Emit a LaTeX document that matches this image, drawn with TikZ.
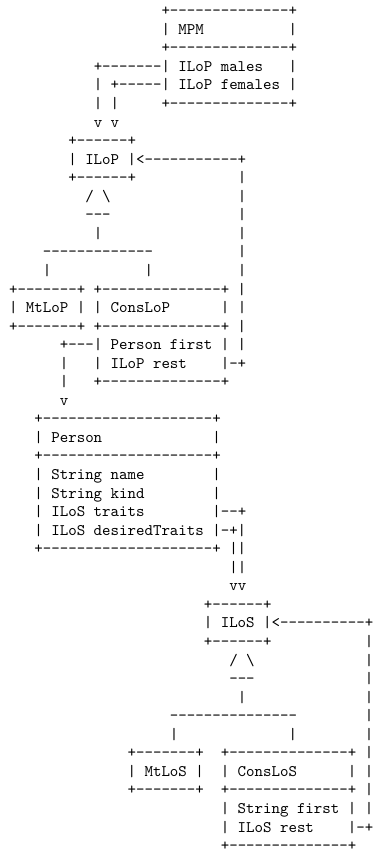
\documentclass[tikz,border=0pt]{standalone}
\usepackage{tikz}

% runs of dashes and blanks in the typewriter grid
\newcommand\dashes[1]{\foreach\k in {1,...,#1}{-}}
\newcommand\blank[1]{\hskip#1\fontdimen2\font\relax}

\tikzset{
  ascii/.style={anchor=base west,inner sep=0pt,outer sep=0pt,font=\ttfamily}
}

\begin{document}
\begin{tikzpicture}[x=5.25pt,y=11.5pt]
      \path[fill=white] (-1.07,-0.153) rectangle (43.08,-46.075);

      % MPM and its two lists
      \node[ascii] (r1) at (18,-1) {+\dashes{14}+};
      \node[ascii] (r2) at (18,-2) {| MPM\blank{10}|};
      \node[ascii] (r3) at (18,-3) {+\dashes{14}+};
      \node[ascii] (r4) at (10,-4) {+\dashes{7}| ILoP males\blank{3}|};
      \node[ascii] (r5) at (10,-5) {| +\dashes{5}| ILoP females |};
      \node[ascii] (r6) at (10,-6) {| |\blank{5}+\dashes{14}+};
      \node[ascii] (r7) at (10,-7) {v v};

      % ILoP
      \node[ascii] (r8) at (7,-8) {+\dashes{6}+};
      \node[ascii] (r9) at (7,-9) {| ILoP |<\dashes{11}+};
      \node[ascii] (r10) at (7,-10) {+\dashes{6}+\blank{12}|};
      \node[ascii] (r11) at (9,-11) {/ \textbackslash\blank{15}|};
      \node[ascii] (r12) at (9,-12) {\dashes{3}\blank{15}|};
      \node[ascii] (r13) at (10,-13) {|\blank{16}|};
      \node[ascii] (r14) at (4,-14) {\dashes{13}\blank{10}|};
      \node[ascii] (r15) at (4,-15) {|\blank{11}|\blank{10}|};
      \node[ascii] (r16) at (0,-16) {+\dashes{7}+ +\dashes{14}+ |};
      \node[ascii] (r17) at (0,-17) {| MtLoP | | ConsLoP\blank{6}| |};
      \node[ascii] (r18) at (0,-18) {+\dashes{7}+ +\dashes{14}+ |};
      \node[ascii] (r19) at (6,-19) {+\dashes{3}| Person first | |};
      \node[ascii] (r20) at (6,-20) {|\blank{3}| ILoP rest\blank{4}|-+};
      \node[ascii] (r21) at (6,-21) {|\blank{3}+\dashes{14}+};
      \node[ascii] (r22) at (6,-22) {v};

      % Person
      \node[ascii] (r23) at (3,-23) {+\dashes{20}+};
      \node[ascii] (r24) at (3,-24) {| Person\blank{13}|};
      \node[ascii] (r25) at (3,-25) {+\dashes{20}+};
      \node[ascii] (r26) at (3,-26) {| String name\blank{8}|};
      \node[ascii] (r27) at (3,-27) {| String kind\blank{8}|};
      \node[ascii] (r28) at (3,-28) {| ILoS traits\blank{8}|\dashes{2}+};
      \node[ascii] (r29) at (3,-29) {| ILoS desiredTraits |-+|};
      \node[ascii] (r30) at (3,-30) {+\dashes{20}+ ||};
      \node[ascii] (r31) at (26,-31) {||};
      \node[ascii] (r32) at (26,-32) {vv};

      % ILoS
      \node[ascii] (r33) at (23,-33) {+\dashes{6}+};
      \node[ascii] (r34) at (23,-34) {| ILoS |<\dashes{10}+};
      \node[ascii] (r35) at (23,-35) {+\dashes{6}+\blank{11}|};
      \node[ascii] (r36) at (26,-36) {/ \textbackslash\blank{13}|};
      \node[ascii] (r37) at (26,-37) {\dashes{3}\blank{13}|};
      \node[ascii] (r38) at (27,-38) {|\blank{14}|};
      \node[ascii] (r39) at (19,-39) {\dashes{15}\blank{8}|};
      \node[ascii] (r40) at (19,-40) {|\blank{13}|\blank{8}|};
      \node[ascii] (r41) at (14,-41) {+\dashes{7}+\blank{2}+\dashes{14}+ |};
      \node[ascii] (r42) at (14,-42) {| MtLoS |\blank{2}| ConsLoS\blank{6}| |};
      \node[ascii] (r43) at (14,-43) {+\dashes{7}+\blank{2}+\dashes{14}+ |};
      \node[ascii] (r44) at (25,-44) {| String first | |};
      \node[ascii] (r45) at (25,-45) {| ILoS rest\blank{4}|-+};
      \node[ascii] (r46) at (25,-46) {+\dashes{14}+};
\end{tikzpicture}
\end{document}
